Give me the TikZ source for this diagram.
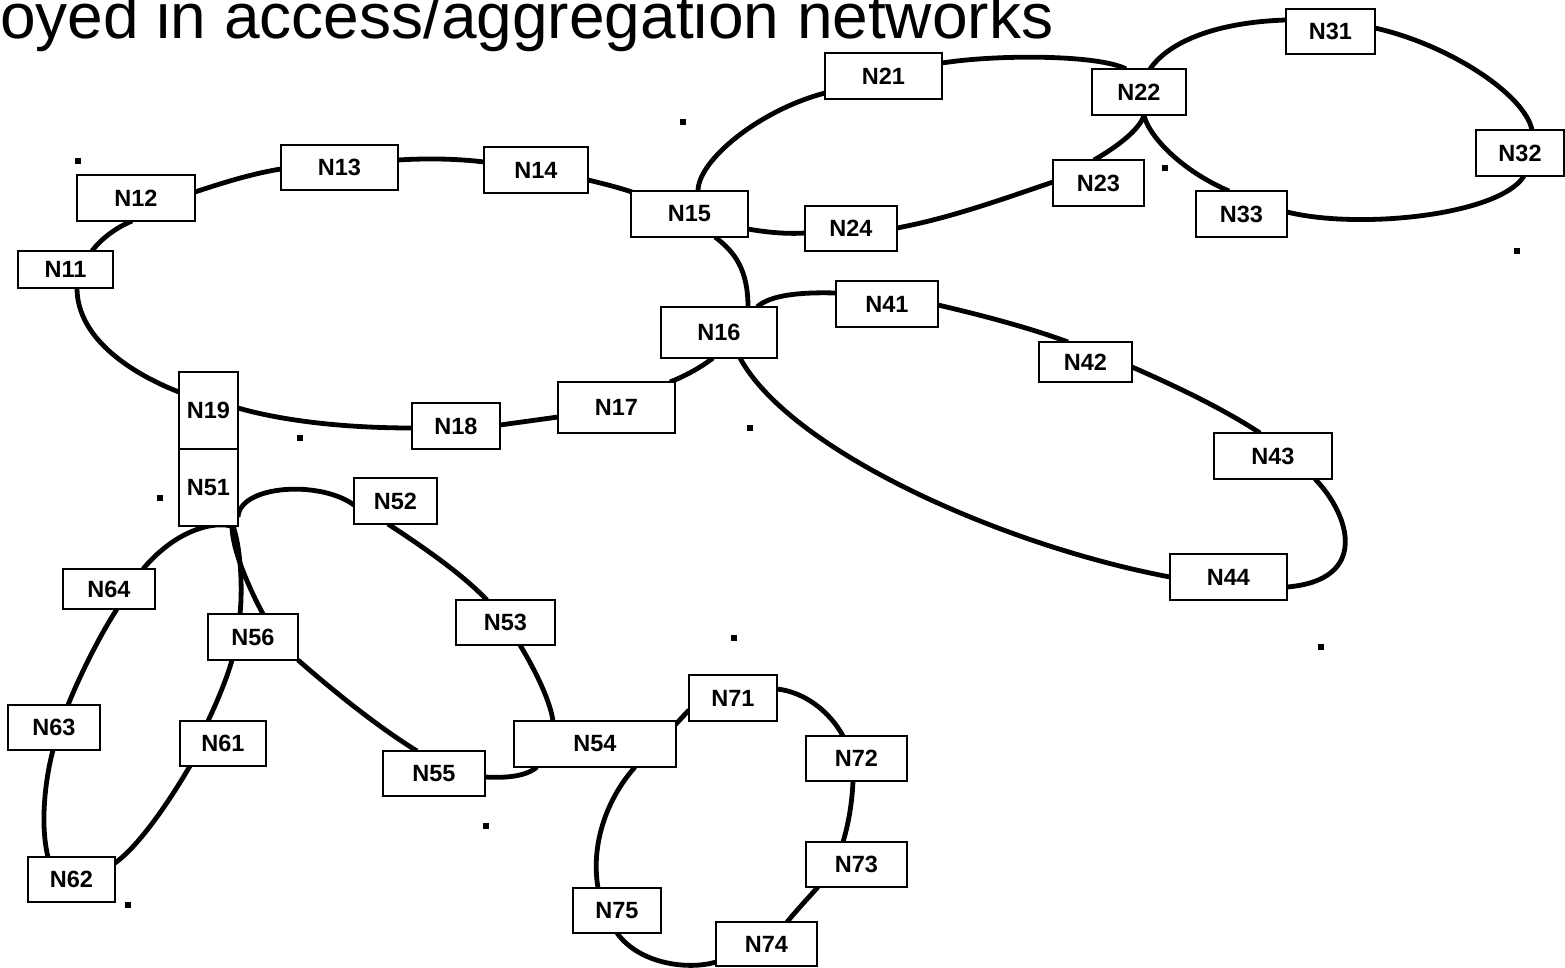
\documentclass[tikz,border=0pt]{standalone}
\usepackage{fontspec}
\setmainfont{Liberation Sans}
\usetikzlibrary{calc}
\pgfdeclarelayer{background}
\pgfsetlayers{background,main}
\begin{document}
\begin{tikzpicture}[x=1pt,y=-1pt,
  box/.style={draw, line width=2pt, fill=white, inner sep=0pt,
    font=\fontsize{23.5}{28}\selectfont\bfseries},
  ring/.style={line width=4.8pt},
  speck/.style={fill=black, minimum size=6.5pt, inner sep=0pt}]
\useasboundingbox (0,0) rectangle (1565,967);
\clip (0,0) rectangle (1565,967);

% heading
\node[anchor=base west, inner sep=0pt, font=\fontsize{64}{70}\selectfont] (title) at (0,38)
  {oyed in access/aggregation networks};

% ring 1
\node[box, minimum width=95pt,  minimum height=37pt] (n11) at (65.5,269.5) {N11};
\node[box, minimum width=118pt, minimum height=46pt] (n12) at (136,198) {N12};
\node[box, minimum width=117pt, minimum height=45pt] (n13) at (339.5,167.5) {N13};
\node[box, minimum width=104pt, minimum height=46pt] (n14) at (536,170) {N14};
\node[box, minimum width=117pt, minimum height=46pt] (n15) at (689.5,214) {N15};
\node[box, minimum width=116pt, minimum height=51pt] (n16) at (719,332.5) {N16};
\node[box, minimum width=117pt, minimum height=51pt] (n17) at (616.5,407.5) {N17};
\node[box, minimum width=88pt,  minimum height=46pt] (n18) at (456,426) {N18};
\node[box, minimum width=59pt,  minimum height=77pt] (n19) at (208.5,410.5) {N19};
% ring 2
\node[box, minimum width=117pt, minimum height=46pt] (n21) at (883.5,76) {N21};
\node[box, minimum width=94pt,  minimum height=46pt] (n22) at (1139,92) {N22};
\node[box, minimum width=91pt,  minimum height=46pt] (n23) at (1098.5,183) {N23};
\node[box, minimum width=92pt,  minimum height=45pt] (n24) at (851,228.5) {N24};
% ring 3
\node[box, minimum width=89pt,  minimum height=45pt] (n31) at (1330.5,31.5) {N31};
\node[box, minimum width=88pt,  minimum height=46pt] (n32) at (1520,153) {N32};
\node[box, minimum width=91pt,  minimum height=46pt] (n33) at (1241.5,214) {N33};
% ring 4
\node[box, minimum width=102pt, minimum height=46pt] (n41) at (887,304) {N41};
\node[box, minimum width=93pt,  minimum height=40pt] (n42) at (1085.5,362) {N42};
\node[box, minimum width=118pt, minimum height=46pt] (n43) at (1273,456) {N43};
\node[box, minimum width=117pt, minimum height=46pt] (n44) at (1228.5,577) {N44};
% ring 5
\node[box, minimum width=59pt,  minimum height=77pt] (n51) at (208.5,487.5) {N51};
\node[box, minimum width=83pt,  minimum height=46pt] (n52) at (395.5,501) {N52};
\node[box, minimum width=99pt,  minimum height=45pt] (n53) at (505.5,622.5) {N53};
\node[box, minimum width=162pt, minimum height=46pt] (n54) at (595,744) {N54};
\node[box, minimum width=102pt, minimum height=45pt] (n55) at (434,773.5) {N55};
\node[box, minimum width=90pt,  minimum height=46pt] (n56) at (253,637) {N56};
% ring 6
\node[box, minimum width=86pt,  minimum height=45pt] (n61) at (223,743.5) {N61};
\node[box, minimum width=87pt,  minimum height=45pt] (n62) at (71.5,879.5) {N62};
\node[box, minimum width=92pt,  minimum height=45pt] (n63) at (54,727.5) {N63};
\node[box, minimum width=92pt,  minimum height=40pt] (n64) at (109,589) {N64};
% ring 7
\node[box, minimum width=88pt,  minimum height=46pt] (n71) at (733,698) {N71};
\node[box, minimum width=101pt, minimum height=45pt] (n72) at (856.5,758.5) {N72};
\node[box, minimum width=101pt, minimum height=45pt] (n73) at (856.5,864.5) {N73};
\node[box, minimum width=101pt, minimum height=44pt] (n74) at (766.5,944) {N74};
\node[box, minimum width=88pt,  minimum height=45pt] (n75) at (617,910.5) {N75};

% stray marks
\node[speck] (s1)  at (78,161) {};
\node[speck] (s2)  at (683,122) {};
\node[speck] (s3)  at (1165,168) {};
\node[speck] (s4)  at (1517,251) {};
\node[speck] (s5)  at (300,438) {};
\node[speck] (s6)  at (750,428) {};
\node[speck] (s7)  at (160,498) {};
\node[speck] (s8)  at (734,638) {};
\node[speck] (s9)  at (1321,647) {};
\node[speck] (s10) at (486,826) {};
\node[speck] (s11) at (128,905) {};

\begin{pgfonlayer}{background}
% ring 1
\draw[ring] ($(n11)+(26.5,-18.5)$) .. controls (100,240) and (115,228) .. ($(n12)+(-4,23)$);
\draw[ring] ($(n12)+(59,-6)$) .. controls (225,182) and (255,173) .. ($(n13)+(-58.5,1.5)$);
\draw[ring] ($(n13)+(58.5,-7.5)$) .. controls (430,158) and (460,159) .. ($(n14)+(-52,-8)$);
\draw[ring] ($(n14)+(52,10)$) .. controls (605,184) and (620,188) .. ($(n15)+(-57.5,-22)$);
\draw[ring] ($(n15)+(25.5,23)$) .. controls (735,252) and (748,270) .. ($(n16)+(29,-25.5)$);
\draw[ring] ($(n16)+(-6,25.5)$) .. controls (700,368) and (685,376) .. ($(n17)+(53.5,-25.5)$);
\draw[ring] ($(n17)+(-58.5,9.5)$) -- ($(n18)+(44,-1)$);
\draw[ring] ($(n18)+(-43,2)$) .. controls (340,428) and (280,420) .. ($(n19)+(29.5,-2.5)$);
\draw[ring] ($(n19)+(-29.5,-18.5)$) .. controls (135,375) and (77,340) .. ($(n11)+(11.5,18.5)$);
% ring 2
\draw[ring] ($(n15)+(8.5,-23)$) .. controls (698,160) and (760,110) .. ($(n21)+(-58.5,17)$);
\draw[ring] ($(n21)+(58.5,-13)$) .. controls (1000,54) and (1100,55) .. ($(n22)+(-13,-23)$);
\draw[ring] ($(n22)+(5,23)$) .. controls (1140,130) and (1115,148) .. ($(n23)+(-4.5,-23)$);
\draw[ring] ($(n23)+(-45.5,-1)$) .. controls (1000,200) and (950,218) .. ($(n24)+(46,-0.5)$);
\draw[ring] ($(n24)+(-46,4.5)$) .. controls (790,234) and (770,233) .. ($(n15)+(58.5,15)$);
% ring 3
\draw[ring] ($(n22)+(11,-23)$) .. controls (1170,40) and (1220,22) .. ($(n31)+(-44.5,-11.5)$);
\draw[ring] ($(n31)+(44.5,-3.5)$) .. controls (1450,45) and (1525,95) .. ($(n32)+(12,-23)$);
\draw[ring] ($(n32)+(4,23)$) .. controls (1500,215) and (1360,230) .. ($(n33)+(45.5,-2)$);
\draw[ring] ($(n33)+(-12.5,-23)$) .. controls (1180,170) and (1148,135) .. ($(n22)+(5,23)$);
% ring 4
\draw[ring] ($(n16)+(38,-25.5)$) .. controls (770,295) and (800,292) .. ($(n41)+(-51,-11)$);
\draw[ring] ($(n41)+(51,1)$) .. controls (985,316) and (1030,328) .. ($(n42)+(-17.5,-20)$);
\draw[ring] ($(n42)+(46.5,5)$) .. controls (1180,388) and (1225,410) .. ($(n43)+(-13,-23)$);
\draw[ring] ($(n43)+(42,23)$) .. controls (1350,515) and (1370,580) .. ($(n44)+(58.5,10)$);
\draw[ring] ($(n44)+(-58.5,0)$) .. controls (1000,545) and (790,450) .. ($(n16)+(21,25.5)$);
% ring 5
\draw[ring] ($(n51)+(29.5,29.5)$) .. controls (240,485) and (320,480) .. ($(n52)+(-41.5,4)$);
\draw[ring] ($(n52)+(-7.5,23)$) .. controls (420,545) and (460,572) .. ($(n53)+(-18.5,-22.5)$);
\draw[ring] ($(n53)+(14.5,22.5)$) .. controls (535,670) and (550,700) .. ($(n54)+(-42,-23)$);
\draw[ring] ($(n54)+(-58,23)$) .. controls (525,777) and (505,778) .. ($(n55)+(51,3.5)$);
\draw[ring] ($(n55)+(-17,-22.5)$) .. controls (375,725) and (330,688) .. ($(n56)+(45,23)$);
\draw[ring] ($(n56)+(10,-23)$) .. controls (250,590) and (232,550) .. ($(n51)+(23.5,38.5)$);
% ring 6
\draw[ring] ($(n51)+(27.5,40.5)$) .. controls (222,520) and (180,525) .. ($(n64)+(34,-20)$);
\draw[ring] ($(n64)+(8,20)$) .. controls (100,635) and (80,675) .. ($(n63)+(14,-22.5)$);
\draw[ring] ($(n63)+(-1,22.5)$) .. controls (45,780) and (40,825) .. ($(n62)+(-23.5,-22.5)$);
\draw[ring] ($(n62)+(43.5,-16.5)$) .. controls (140,845) and (170,800) .. ($(n61)+(-33,22.5)$);
\draw[ring] ($(n61)+(-15,-22.5)$) .. controls (218,700) and (228,675) .. ($(n56)+(-21,23)$);
\draw[ring] ($(n56)+(-13,-23)$) .. controls (243,585) and (240,545) .. ($(n51)+(24.5,38.5)$);
% ring 7
\draw[ring] ($(n54)+(80,-19)$) -- ($(n71)+(-44,12)$);
\draw[ring] ($(n71)+(44,-9)$) .. controls (805,692) and (830,712) .. ($(n72)+(-13.5,-22.5)$);
\draw[ring] ($(n72)+(-3.5,22.5)$) .. controls (852,805) and (848,825) .. ($(n73)+(-13.5,-22.5)$);
\draw[ring] ($(n73)+(-38.5,22.5)$) .. controls (808,898) and (797,910) .. ($(n74)+(20.5,-22)$);
\draw[ring] ($(n74)+(-50.5,18)$) .. controls (690,970) and (640,965) .. ($(n75)+(0,22.5)$);
\draw[ring] ($(n75)+(-19,-22.5)$) .. controls (590,840) and (610,795) .. ($(n54)+(40,23)$);
\end{pgfonlayer}
\end{tikzpicture}
\end{document}
